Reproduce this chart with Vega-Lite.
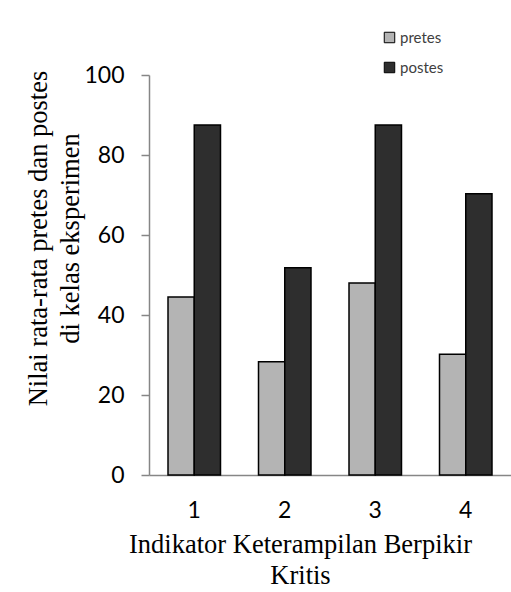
{
  "$schema": "https://vega.github.io/schema/vega-lite/v6.json",
  "width": 362,
  "height": 400,
  "autosize": {"type": "none"},
  "padding": {"left": 149, "top": 75, "right": 0, "bottom": 117},
  "background": "white",
  "data": {
    "values": [
      {"indikator": "1", "tes": "pretes", "nilai": 44.5},
      {"indikator": "1", "tes": "postes", "nilai": 87.5},
      {"indikator": "2", "tes": "pretes", "nilai": 28.3},
      {"indikator": "2", "tes": "postes", "nilai": 51.8},
      {"indikator": "3", "tes": "pretes", "nilai": 48.0},
      {"indikator": "3", "tes": "postes", "nilai": 87.5},
      {"indikator": "4", "tes": "pretes", "nilai": 30.2},
      {"indikator": "4", "tes": "postes", "nilai": 70.3}
    ]
  },
  "mark": {"type": "bar", "stroke": "black", "strokeWidth": 1.5},
  "encoding": {
    "x": {
      "field": "indikator",
      "type": "nominal",
      "scale": {"paddingInner": 0.42, "paddingOuter": 0.21},
      "axis": {
        "title": ["Indikator Keterampilan Berpikir", "Kritis"],
        "titleFont": "Liberation Serif",
        "titleFontSize": 26.5,
        "titleFontWeight": "normal",
        "titleColor": "black",
        "titleLineHeight": 31,
        "titleX": 151,
        "titleY": 56,
        "titleAnchor": "middle",
        "titleAlign": "center",
        "titleBaseline": "top",
        "labelAngle": 0,
        "labelFont": "Lato",
        "labelFontSize": 23,
        "labelColor": "black",
        "labelPadding": 24,
        "ticks": false,
        "domainColor": "#868686",
        "domainWidth": 1.5,
        "grid": false
      }
    },
    "xOffset": {"field": "tes", "type": "nominal", "sort": ["pretes", "postes"], "scale": {"paddingInner": 0, "paddingOuter": 0}},
    "y": {
      "field": "nilai",
      "type": "quantitative",
      "scale": {"domain": [0, 100]},
      "axis": {
        "values": [0, 20, 40, 60, 80, 100],
        "title": ["Nilai rata-rata pretes dan postes", "di kelas eksperimen"],
        "titleFont": "Liberation Serif",
        "titleFontSize": 26.5,
        "titleFontWeight": "normal",
        "titleColor": "black",
        "titleLineHeight": 32,
        "titleAngle": 270,
        "titleX": -124,
        "titleY": 163,
        "titleAlign": "center",
        "titleBaseline": "top",
        "labelFont": "Lato",
        "labelFontSize": 23,
        "labelColor": "black",
        "labelPadding": 17,
        "tickSize": 8,
        "tickColor": "#868686",
        "tickWidth": 1.5,
        "domainColor": "#868686",
        "domainWidth": 1.5,
        "grid": false
      }
    },
    "fill": {
      "field": "tes",
      "type": "nominal",
      "sort": ["pretes", "postes"],
      "scale": {"domain": ["pretes", "postes"], "range": ["#b4b4b4", "#2e2e2e"]},
      "legend": {
        "title": null,
        "orient": "none",
        "legendX": 233,
        "legendY": -45,
        "symbolType": "square",
        "symbolSize": 110,
        "symbolStrokeColor": "black",
        "symbolStrokeWidth": 1,
        "labelFont": "Lato",
        "labelFontSize": 15,
        "labelColor": "#404040",
        "labelOffset": 3,
        "rowPadding": 14
      }
    }
  },
  "config": {"view": {"stroke": null}}
}
